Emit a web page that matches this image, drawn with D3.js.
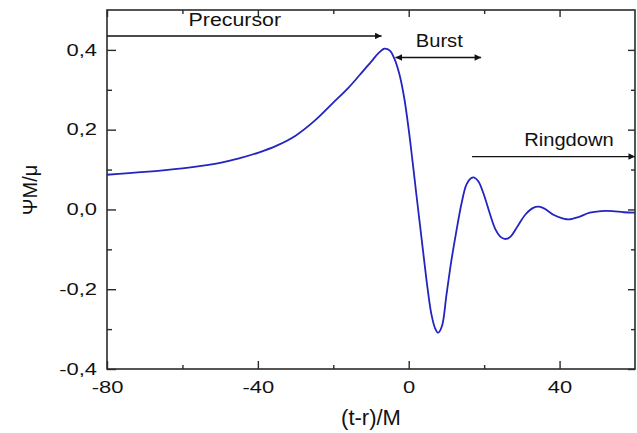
<!DOCTYPE html>
<html>
<head>
<meta charset="utf-8">
<script src="https://cdn.jsdelivr.net/npm/d3@7"></script>
<style>
  html, body { margin: 0; padding: 0; background: #fff; }
  svg { display: block; }
  text { font-family: "Liberation Sans", Arial, sans-serif; fill: #111; }
</style>
</head>
<body>
<svg id="chart" width="637" height="433"></svg>
<script>
// ---- data ----
const tValues = [-80, -70, -60, -55, -50, -45, -40, -35, -30, -25, -20, -16, -13, -10, -8, -6.4, -5, -3.8, -2.5, -1.2, 0, 1, 2, 3, 4, 5, 6, 7, 7.8, 8.8, 10, 11.2, 12.5, 14, 15.3, 16.5, 17.4, 18.5, 20, 21.5, 23, 24.5, 25.8, 27, 29, 31, 33, 34.5, 36, 38.5, 41, 42.5, 45, 48, 51, 54, 57, 60];
const psiValues = [0.087, 0.094, 0.103, 0.109, 0.117, 0.128, 0.142, 0.160, 0.185, 0.222, 0.268, 0.305, 0.337, 0.370, 0.392, 0.403, 0.398, 0.378, 0.340, 0.280, 0.200, 0.122, 0.040, -0.040, -0.120, -0.198, -0.262, -0.298, -0.309, -0.293, -0.215, -0.135, -0.062, 0.015, 0.062, 0.078, 0.080, 0.070, 0.035, -0.010, -0.050, -0.070, -0.074, -0.068, -0.040, -0.012, 0.004, 0.007, 0.002, -0.014, -0.023, -0.025, -0.019, -0.008, -0.004, -0.004, -0.007, -0.008];

const xMajorTicks = [-80, -40, 0, 40];
const xMinorTicks = [-60, -20, 20];
const yMajorTicks = [-0.4, -0.2, 0.0, 0.2, 0.4];
const yMinorTicks = [-0.3, -0.1, 0.1, 0.3];

const phaseLabels = ["Precursor", "Burst", "Ringdown"];
const phaseLabelT = [-46.1, 8.1, 42.5];
const phaseLabelPsi = [0.459, 0.406, 0.159];
const phaseArrowFrom = [-80, -3.5, 16.8];
const phaseArrowTo = [-7.2, 19.2, 60];
const phaseArrowPsi = [0.435, 0.381, 0.1325];
const phaseArrowDouble = [false, true, false];

const xLabel = "(t-r)/M";
const yLabel = "ΨM/μ";

// ---- layout ----
const svg = d3.select("#chart");
const m = { left: 107, right: 2, top: 10, bottom: 64 };
const W = 637, H = 433;
const x = d3.scaleLinear().domain([-80, 60]).range([m.left, W - m.right]);
const y = d3.scaleLinear().domain([-0.4, 0.5]).range([H - m.bottom, m.top]);
const fmtY = v => d3.format(".1f")(v).replace(".", ",").replace("−", "-");
const fmtX = v => d3.format("d")(v).replace("−", "-");

const defs = svg.append("defs");
defs.append("marker").attr("id", "ah").attr("viewBox", "0 0 10 10")
  .attr("refX", 10).attr("refY", 5).attr("markerWidth", 11).attr("markerHeight", 6.5)
  .attr("markerUnits", "userSpaceOnUse").attr("orient", "auto-start-reverse")
  .append("path").attr("d", "M0,0 L10,5 L0,10 Z").attr("fill", "#111");

const frameColor = "#2b2b2b";

// curve
const data = tValues.map((t, i) => ({ t, v: psiValues[i] }));
svg.append("path").datum(data)
  .attr("fill", "none").attr("stroke", "#2424c0").attr("stroke-width", 1.8)
  .attr("d", d3.line().x(d => x(d.t)).y(d => y(d.v)).curve(d3.curveCatmullRom.alpha(0.5)));

// axes (ticks inward)
function styleAxis(g) {
  g.select(".domain").remove();
  g.selectAll(".tick line").attr("stroke", frameColor).attr("stroke-width", 1.4);
  g.selectAll(".tick text").attr("font-size", 16.5).attr("fill", "#111");
}
const xb = svg.append("g").attr("transform", `translate(0,${y(-0.4)})`)
  .call(d3.axisBottom(x).tickValues(xMajorTicks).tickSizeInner(-8).tickSizeOuter(0).tickPadding(12).tickFormat(fmtX));
styleAxis(xb);
const xbm = svg.append("g").attr("transform", `translate(0,${y(-0.4)})`)
  .call(d3.axisBottom(x).tickValues(xMinorTicks).tickSizeInner(-4).tickSizeOuter(0).tickFormat(""));
styleAxis(xbm);
const xt = svg.append("g").attr("transform", `translate(0,${y(0.5)})`)
  .call(d3.axisTop(x).tickValues(xMajorTicks).tickSizeInner(-7).tickSizeOuter(0).tickFormat(""));
styleAxis(xt);
const xtm = svg.append("g").attr("transform", `translate(0,${y(0.5)})`)
  .call(d3.axisTop(x).tickValues(xMinorTicks).tickSizeInner(-4).tickSizeOuter(0).tickFormat(""));
styleAxis(xtm);

const yl = svg.append("g").attr("transform", `translate(${x(-80)},0)`)
  .call(d3.axisLeft(y).tickValues(yMajorTicks).tickSizeInner(-9).tickSizeOuter(0).tickPadding(10).tickFormat(fmtY));
styleAxis(yl);
const ylm = svg.append("g").attr("transform", `translate(${x(-80)},0)`)
  .call(d3.axisLeft(y).tickValues(yMinorTicks).tickSizeInner(-5).tickSizeOuter(0).tickFormat(""));
styleAxis(ylm);
const yr = svg.append("g").attr("transform", `translate(${x(60)},0)`)
  .call(d3.axisRight(y).tickValues(yMajorTicks).tickSizeInner(-7).tickSizeOuter(0).tickFormat(""));
styleAxis(yr);
const yrm = svg.append("g").attr("transform", `translate(${x(60)},0)`)
  .call(d3.axisRight(y).tickValues(yMinorTicks).tickSizeInner(-4).tickSizeOuter(0).tickFormat(""));
styleAxis(yrm);

// frame
svg.append("rect").attr("x", x(-80)).attr("y", y(0.5))
  .attr("width", x(60) - x(-80)).attr("height", y(-0.4) - y(0.5))
  .attr("fill", "none").attr("stroke", frameColor).attr("stroke-width", 1.6);

// stretch tick labels horizontally like the reference
svg.selectAll(".tick text").each(function() {
  const w = this.getComputedTextLength();
  d3.select(this).attr("textLength", w * 1.33).attr("lengthAdjust", "spacingAndGlyphs");
});

// phase arrows & labels
phaseLabels.forEach((lab, i) => {
  const ln = svg.append("line")
    .attr("x1", x(phaseArrowFrom[i])).attr("x2", x(phaseArrowTo[i]))
    .attr("y1", y(phaseArrowPsi[i])).attr("y2", y(phaseArrowPsi[i]))
    .attr("stroke", "#111").attr("stroke-width", 1.4)
    .attr("marker-end", "url(#ah)");
  if (phaseArrowDouble[i]) ln.attr("marker-start", "url(#ah)");
  const t = svg.append("text").attr("x", x(phaseLabelT[i])).attr("y", y(phaseLabelPsi[i]))
    .attr("text-anchor", "middle").attr("font-size", 17.5).text(lab);
  const w = t.node().getComputedTextLength();
  t.attr("textLength", w * (i === 0 ? 1.22 : 1.15)).attr("lengthAdjust", "spacingAndGlyphs");
});

// axis titles
svg.append("text").attr("x", 371).attr("y", 425).attr("text-anchor", "middle")
  .attr("font-family", "Lato, 'Open Sans', sans-serif").attr("font-size", 22).text(xLabel);
svg.append("text").attr("transform", "translate(37,190) rotate(-90)")
  .attr("text-anchor", "middle").attr("font-family", "'DejaVu Serif', serif").attr("font-size", 20).text(yLabel);
</script>
</body>
</html>
